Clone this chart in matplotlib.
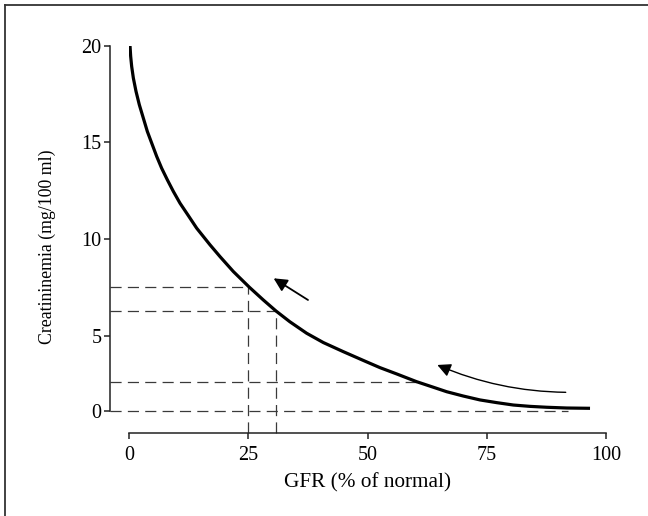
import numpy as np
import matplotlib
matplotlib.use("Agg")
import matplotlib.pyplot as plt
from matplotlib.lines import Line2D

plt.rcParams['font.family'] = ['Liberation Serif', 'DejaVu Serif']
plt.rcParams['lines.scale_dashes'] = False

# ---- data ----
gfr = [0.21, 0.35, 0.56, 0.91, 1.47, 2.16, 3.00, 3.84, 4.75, 5.80, 6.84,
       8.03, 9.29, 10.69, 12.43, 14.18, 16.97, 19.07, 21.86, 25.21, 28.14,
       30.80, 33.67, 37.22, 40.71, 44.90, 49.40, 52.59, 56.08, 60.27, 63.76,
       66.56, 70.05, 73.54, 77.03, 80.52, 84.01, 87.51, 91.70, 96.59]
creat = [20.0, 19.45, 18.93, 18.33, 17.64, 16.95, 16.26, 15.57, 14.97, 14.28,
         13.67, 13.07, 12.47, 11.86, 11.22, 10.57, 9.71, 9.10, 8.33, 7.52,
         6.86, 6.29, 5.74, 5.14, 4.56, 3.95, 3.32, 2.88, 2.46, 1.94, 1.57,
         1.27, 0.98, 0.72, 0.54, 0.38, 0.29, 0.23, 0.18, 0.16]

x_ticks = [0, 25, 50, 75, 100]
y_ticks = [0, 5, 10, 15, 20]

# reference lines: (creatinine level, gfr where the horizontal dash ends)
h_levels = [7.55, 6.31, 1.90, 0.0]
h_ends = [25.0, 30.75, 61.0, 92.0]
# vertical dashed lines: (gfr, creatinine top)
v_gfr = [25.0, 30.75]
v_top = [7.55, 6.31]

# arrows (tail -> head)
short_arrow_tail = (37.5, 6.86)
short_arrow_head = (30.3, 7.98)
long_arrow_tail = (91.5, 1.23)
long_arrow_head = (64.6, 3.06)

xlabel = "GFR (% of normal)"
ylabel = "Creatininemia (mg/100 ml)"

# piecewise-linear y scale (the 0-5 interval is drawn compressed)
R = 14.93 / 19.33
def fwd(y):
    y = np.asarray(y, dtype=float)
    return np.where(y < 5, 5 - (5 - y) * R, y)
def inv(t):
    t = np.asarray(t, dtype=float)
    return np.where(t < 5, 5 - (5 - t) / R, t)

W, H = 648, 516
fig = plt.figure(figsize=(W / 100, H / 100), dpi=100)
ax = fig.add_axes([129 / W, (H - 410.7) / H, (606.3 - 129) / W, (410.7 - 45.7) / H])
ax.set_yscale('function', functions=(fwd, inv))
ax.set_xlim(0, 100)
ax.set_ylim(0, 20)

for s in ['top', 'right']:
    ax.spines[s].set_visible(False)
ax.spines['left'].set_position(('outward', 19 * 0.72))
ax.spines['bottom'].set_position(('outward', 22.3 * 0.72))
ax.spines['left'].set_bounds(0, 20)
ax.spines['bottom'].set_bounds(0, 100)
for s in ['left', 'bottom']:
    ax.spines[s].set_linewidth(1.1)
    ax.spines[s].set_color('#222222')

ax.set_xticks(x_ticks)
ax.set_yticks(y_ticks)
ax.yaxis.set_minor_locator(matplotlib.ticker.NullLocator())
ax.xaxis.set_minor_locator(matplotlib.ticker.NullLocator())
ax.set_xticklabels([str(v) for v in x_ticks])
ax.set_yticklabels([str(v) for v in y_ticks])
ax.tick_params(axis='both', direction='out', length=4, width=1.1, color='#222222',
               labelsize=14.5)
ax.tick_params(axis='y', pad=2)
ax.tick_params(axis='x', pad=5)

# curve
ax.plot(gfr, creat, color='black', lw=2.3, solid_capstyle='butt',
        solid_joinstyle='round', zorder=3)

# spine locations in data coordinates (for dashed lines reaching the spines)
x0_disp, y0_disp = ax.transData.transform((0, 0))
spine_x = ax.transData.inverted().transform((x0_disp - 19, y0_disp))[0]
spine_y = ax.transData.inverted().transform((x0_disp, y0_disp - 22.3))[1]

dash = (0, (8, 4.5))
for lvl, xe in zip(h_levels, h_ends):
    ax.plot([spine_x, xe], [lvl, lvl], color='#3a3a3a', lw=0.9, ls=dash,
            clip_on=False, zorder=2)
for xv, yt in zip(v_gfr, v_top):
    ax.plot([xv, xv], [spine_y, yt], color='#3a3a3a', lw=0.9, ls=dash,
            clip_on=False, zorder=2)

ax.annotate('', xy=short_arrow_head, xytext=short_arrow_tail,
            arrowprops=dict(arrowstyle='-|>', color='black', lw=1.3,
                            mutation_scale=20, shrinkA=0, shrinkB=0))
ax.annotate('', xy=long_arrow_head, xytext=long_arrow_tail,
            arrowprops=dict(arrowstyle='-|>', color='black', lw=1.0,
                            mutation_scale=20, shrinkA=0, shrinkB=0,
                            connectionstyle='arc3,rad=-0.1'))

fig.text(368 / W, 1 - 483 / H, xlabel, ha='center', va='center', fontsize=15.3)
fig.text(47 / W, 1 - 247 / H, ylabel, ha='center', va='center', rotation=90,
         fontsize=12.8)

# outer frame (only top and left edges fall inside the image)
fig.add_artist(Line2D([5 / W, 5 / W], [0, 1 - 5 / H], transform=fig.transFigure,
                      color='#333333', lw=1.3))
fig.add_artist(Line2D([5 / W, 1], [1 - 5 / H, 1 - 5 / H], transform=fig.transFigure,
                      color='#333333', lw=1.3))

fig.savefig('out.png', dpi=100)
